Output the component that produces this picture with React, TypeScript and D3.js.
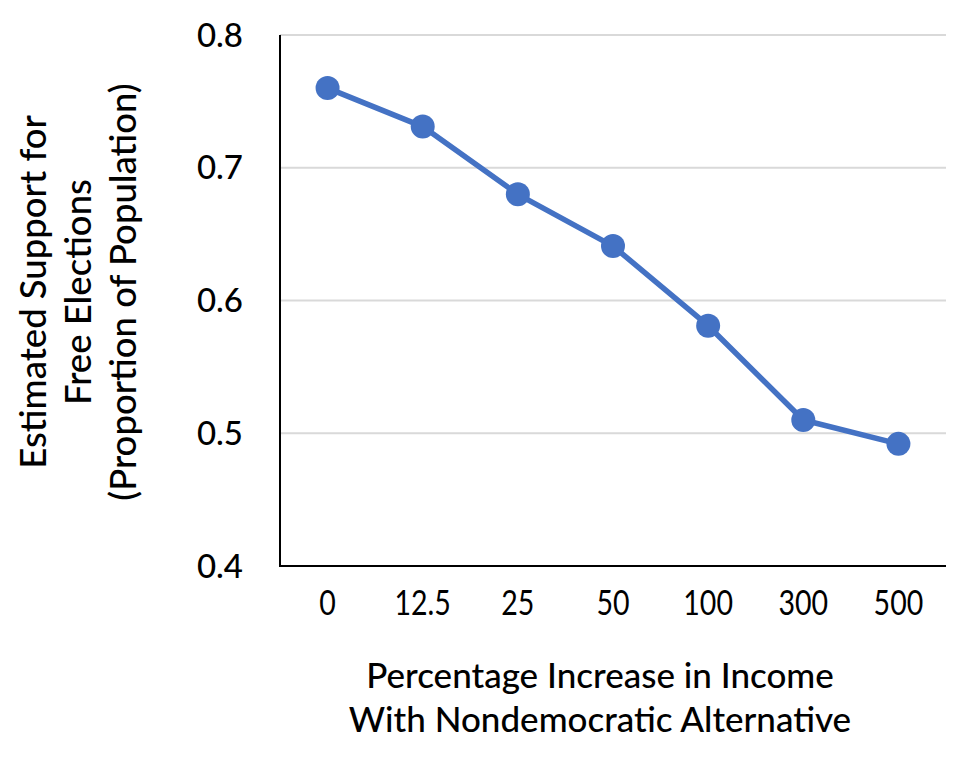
import { useEffect, useRef } from "react";
import * as d3 from "d3";

const categories = ["0", "12.5", "25", "50", "100", "300", "500"];
const support = [0.76, 0.731, 0.68, 0.641, 0.581, 0.51, 0.492];
const yTicks = [0.4, 0.5, 0.6, 0.7, 0.8];
const xTitle = ["Percentage Increase in Income", "With Nondemocratic Alternative"];
const yTitle = ["Estimated Support for", "Free Elections", "(Proportion of Population)"];

const W = 970;
const H = 760;
const left = 280;
const right = 946;
const top = 35;
const bottom = 566;
const font = "Lato, 'Noto Sans', sans-serif";
const blue = "#4472C4";

const App = () => {
    const svgRef = useRef<SVGSVGElement>(null);

    useEffect(() => {
        const svg = d3.select(svgRef.current);
        svg.selectAll("*").remove();

        // escalas
        const x = d3.scaleBand().domain(categories).range([left, right]);
        const y = d3.scaleLinear().domain([0.4, 0.8]).range([bottom, top]);
        const cx = (c: string) => (x(c) ?? 0) + x.bandwidth() / 2;

        // linhas de grade
        svg.append("g")
            .selectAll("line")
            .data(yTicks.filter(t => t > 0.4))
            .join("line")
            .attr("x1", left)
            .attr("x2", right)
            .attr("y1", d => y(d))
            .attr("y2", d => y(d))
            .attr("stroke", "#d9d9d9")
            .attr("stroke-width", 2);

        // eixos
        svg.append("line")
            .attr("x1", left).attr("x2", left)
            .attr("y1", top).attr("y2", bottom)
            .attr("stroke", "#000").attr("stroke-width", 2);
        svg.append("line")
            .attr("x1", left - 1).attr("x2", right)
            .attr("y1", bottom).attr("y2", bottom)
            .attr("stroke", "#000").attr("stroke-width", 2);

        // rótulos do eixo y
        svg.append("g")
            .selectAll("text")
            .data(yTicks)
            .join("text")
            .attr("x", left - 37)
            .attr("y", d => y(d))
            .attr("dy", "0.35em")
            .attr("text-anchor", "end")
            .attr("font-family", font)
            .attr("font-weight", 500)
            .attr("font-size", 33)
            .text(d => d.toFixed(1));

        // rótulos do eixo x (condensados)
        svg.append("g")
            .selectAll("text")
            .data(categories)
            .join("text")
            .attr("transform", d => `translate(${cx(d)}, 603) scale(0.84, 1)`)
            .attr("dy", "0.35em")
            .attr("text-anchor", "middle")
            .attr("font-family", font)
            .attr("font-size", 34)
            .text(d => d);

        // linha da série
        const line = d3.line<number>()
            .x((_, i) => cx(categories[i]))
            .y(d => y(d));

        svg.append("path")
            .datum(support)
            .attr("d", line)
            .attr("fill", "none")
            .attr("stroke", blue)
            .attr("stroke-width", 5.5)
            .attr("stroke-linejoin", "round");

        svg.append("g")
            .selectAll("circle")
            .data(support)
            .join("circle")
            .attr("cx", (_, i) => cx(categories[i]))
            .attr("cy", d => y(d))
            .attr("r", 12)
            .attr("fill", blue);

        // título do eixo x
        svg.append("text")
            .attr("font-family", font)
            .attr("font-weight", 500)
            .attr("font-size", 35)
            .attr("text-anchor", "middle")
            .selectAll("tspan")
            .data(xTitle)
            .join("tspan")
            .attr("x", 600)
            .attr("y", (_, i) => 688 + i * 44)
            .text(d => d);

        // título do eixo y
        svg.append("text")
            .attr("transform", "translate(0, 292) rotate(-90)")
            .attr("font-family", font)
            .attr("font-weight", 500)
            .attr("font-size", 36.5)
            .attr("text-anchor", "middle")
            .selectAll("tspan")
            .data(yTitle)
            .join("tspan")
            .attr("x", 0)
            .attr("y", (_, i) => 46 + i * 45)
            .text(d => d);
    }, []);

    return <svg ref={svgRef} width={W} height={H} style={{ display: "block", margin: -8 }} />;
};

export default App;
